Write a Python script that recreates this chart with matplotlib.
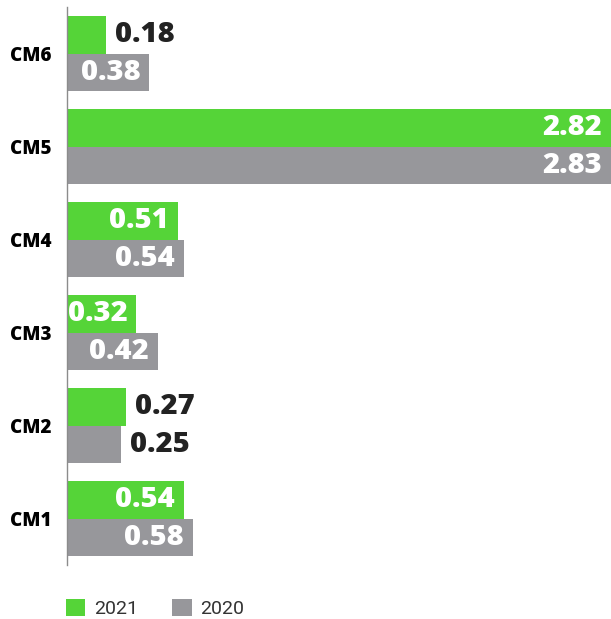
import matplotlib
matplotlib.use("Agg")
from matplotlib import pyplot as plt
import numpy as np

# data, bottom to top
categories = ["CM1", "CM2", "CM3", "CM4", "CM5", "CM6"]
values_2021 = [0.54, 0.27, 0.32, 0.51, 2.82, 0.18]
values_2020 = [0.58, 0.25, 0.42, 0.54, 2.83, 0.38]
series_names = ["2021", "2020"]

green = "#55d438"
gray = "#97979b"
dark = "#222222"

plt.rcParams["font.family"] = ["Open Sans", "DejaVu Sans"]

fig = plt.figure(figsize=(6.11, 6.19), dpi=100)
ax = fig.add_axes([67 / 611, 54 / 619, 1 - 67 / 611, 558 / 619])

y = np.arange(len(categories))
h = 0.4
bars21 = ax.barh(y + h / 2, values_2021, height=h, color=green, label=series_names[0])
bars20 = ax.barh(y - h / 2, values_2020, height=h, color=gray, label=series_names[1])

xmax = 2.507
ax.set_xlim(0, xmax)
ax.set_ylim(-0.5, len(categories) - 0.5)

# value labels: white inside wide bars, dark outside narrow ones
pad = 0.042
for ypos, vals in [(y + h / 2, values_2021), (y - h / 2, values_2020)]:
    for yy, v in zip(ypos, vals):
        txt = "{:.2f}".format(v)
        if v >= 0.3:
            ax.text(min(v, xmax) - pad, yy, txt, ha="right", va="center",
                    color="white", fontsize=21, fontweight="heavy")
        else:
            ax.text(v + pad, yy, txt, ha="left", va="center",
                    color=dark, fontsize=21, fontweight="heavy")

ax.set_yticks(y)
ax.set_yticklabels(categories, fontsize=13.5, fontweight="heavy", color="black")
ax.tick_params(axis="y", length=0, pad=11)
ax.set_xticks([])

for s in ["top", "right", "bottom"]:
    ax.spines[s].set_visible(False)
ax.spines["left"].set_color("#8c8c8c")
ax.spines["left"].set_linewidth(1)

fig.legend(handles=[bars21, bars20], labels=series_names,
           loc="lower left", bbox_to_anchor=(65 / 611, 0 / 619),
           ncol=2, frameon=False, handlelength=1.0,
           handleheight=1.0, handletextpad=0.45, columnspacing=1.75,
           borderpad=0.05, borderaxespad=0, prop={"family": "Roboto", "size": 14})
for t in fig.legends[0].get_texts():
    t.set_color("#333333")

fig.savefig("out.png", dpi=100)
